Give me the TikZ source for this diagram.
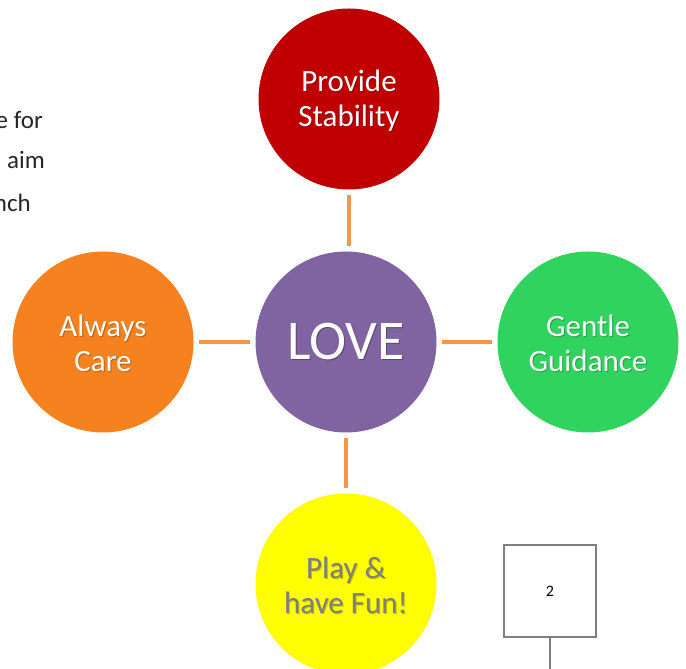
\documentclass[tikz,border=0pt]{standalone}
\usepackage{fontspec}
\setmainfont{Carlito}
\definecolor{cred}{HTML}{C00000}
\definecolor{cpurple}{HTML}{8064A2}
\definecolor{corange}{HTML}{F5821F}
\definecolor{cgreen}{HTML}{30D35E}
\definecolor{cyellow}{HTML}{FFFF00}
\definecolor{conn}{HTML}{F79646}
\definecolor{cgray}{HTML}{7F7F7F}
\newcommand\shd[2]{\makebox[0pt][l]{\kern1pt\raisebox{-1pt}{\textcolor{#1}{#2}}}#2}
\tikzset{
  bubble/.style={circle, draw=none, minimum size=181pt, inner sep=0pt, align=center,
     text=white, font=\fontsize{31}{35}\selectfont},
  connline/.style={draw=conn, line width=4.5pt, shorten <=5pt, shorten >=5pt},
  pagebox/.style={draw=cgray, line width=1.8pt, minimum size=92pt, inner sep=0pt,
     font=\fontsize{16}{19}\selectfont},
  bodytext/.style={anchor=east, inner sep=0pt, font=\fontsize{25}{30}\selectfont, text=black!85}
}
\begin{document}
\begin{tikzpicture}[x=1pt,y=1pt]
\useasboundingbox[fill=white] (0,0) rectangle (686,669);
% partial body text on the left
\node[bodytext] (t1) at (43,549) {e for};
\node[bodytext] (t2) at (45,509) {aim};
\node[bodytext] (t3) at (31,466) {nch};
% circles
\node[bubble, fill=cred] (top) at (349,570) {};
\node[font=\fontsize{31}{35}\selectfont, text=white, align=center] (toptxt) at (349,568) {\shd{cred!75!black}{Provide}\\\shd{cred!75!black}{Stability}};
\node[bubble, fill=cpurple, font=\fontsize{56}{60}\selectfont] (love) at (346,327) {\shd{cpurple!70!black}{LOVE}};
\node[bubble, fill=corange] (left) at (103,327) {};
\node[font=\fontsize{31}{35}\selectfont, text=white, align=center] (lefttxt) at (103,325) {\shd{corange!75!black}{Always}\\\shd{corange!75!black}{Care}};
\node[bubble, fill=cgreen] (right) at (588,327) {};
\node[font=\fontsize{31}{35}\selectfont, text=white, align=center] (righttxt) at (588,325) {\shd{cgreen!75!black}{Gentle}\\\shd{cgreen!75!black}{Guidance}};
\node[bubble, fill=cyellow] (bottom) at (346,85) {};
\node[font=\fontsize{31}{35}\selectfont, text=cgray, align=center] (bottomtxt) at (346,83) {\shd{cyellow!75!black}{Play \&}\\\shd{cyellow!75!black}{have Fun!}};
% connectors
\draw[connline] (top.south) -- (top.south |- love.north);
\draw[connline] (left.east) -- (love.west);
\draw[connline] (love.east) -- (right.west);
\draw[connline] (love.south) -- (love.south |- bottom.north);
% page box
\node[pagebox, fill=white] (pg) at (550,78) {2};
\coordinate (pgend) at (pg.south |- 0,0);
\draw[cgray, line width=1.8pt] (pg.south) -- (pgend);
\end{tikzpicture}
\end{document}
